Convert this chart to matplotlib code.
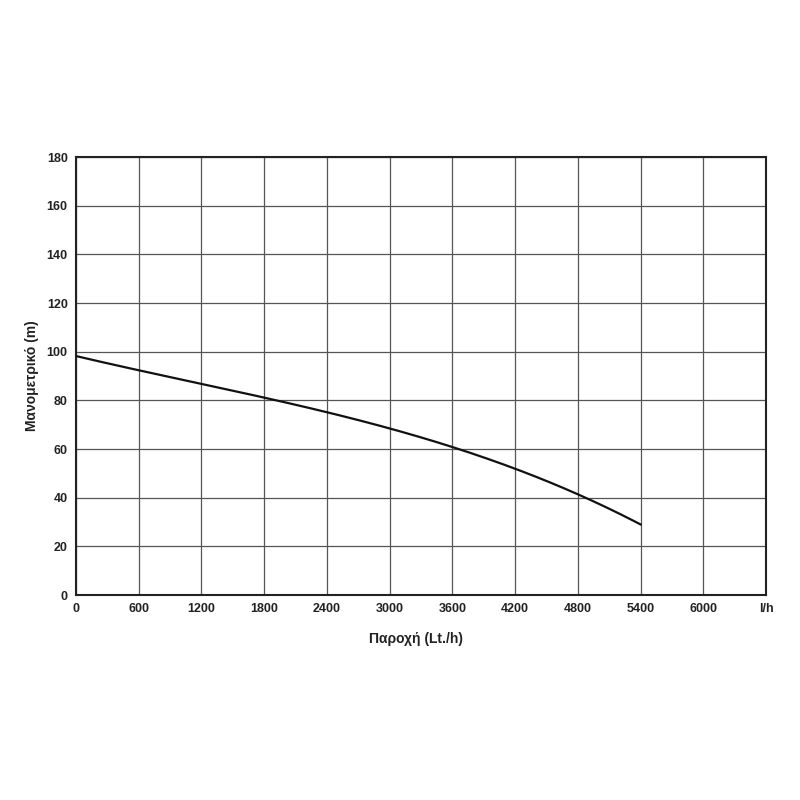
import numpy as np
import matplotlib.pyplot as plt

plt.rcParams['font.family'] = ['Liberation Sans', 'DejaVu Sans']

# pump curve
flow = [0, 600, 1200, 1800, 2400, 3000, 3600, 4200, 4800, 5400]
head = [97.9, 92.7, 87.0, 81.2, 74.9, 68.1, 60.5, 52.1, 42.2, 28.5]

x_ticks = [0, 600, 1200, 1800, 2400, 3000, 3600, 4200, 4800, 5400, 6000, 6600]
x_labels = ['0', '600', '1200', '1800', '2400', '3000', '3600', '4200',
            '4800', '5400', '6000', 'l/h']
y_ticks = list(range(0, 181, 20))

fig = plt.figure(figsize=(8, 8), dpi=100)
ax = fig.add_axes([0.095, 0.25625, 0.8625, 0.5475])

# smooth the curve with a cubic fit through the read points
c = np.polyfit(flow, head, 3)
xs = np.linspace(flow[0], flow[-1], 200)
ax.plot(xs, np.polyval(c, xs), color='#111111', lw=1.6, zorder=3)

ax.set_xlim(0, 6600)
ax.set_ylim(0, 180)
ax.set_xticks(x_ticks)
ax.set_xticklabels(x_labels)
ax.set_yticks(y_ticks)
ax.grid(True, color='#555555', lw=0.9)
ax.tick_params(length=0, labelsize=9, pad=6)
for lab in ax.get_xticklabels() + ax.get_yticklabels():
    lab.set_fontweight('bold')
    lab.set_color('#222222')
for s in ax.spines.values():
    s.set_linewidth(1.5)
    s.set_color('#222222')

ax.set_xlabel('Παροχή (Lt./h)', fontsize=10, fontweight='bold', color='#222222')
ax.xaxis.set_label_coords(0.493, -0.085)
ax.set_ylabel('Μανομετρικό (m)', fontsize=10, fontweight='bold', color='#222222')
ax.yaxis.set_label_coords(-0.054, 0.5)

fig.savefig('out.png', dpi=100, facecolor='white')
